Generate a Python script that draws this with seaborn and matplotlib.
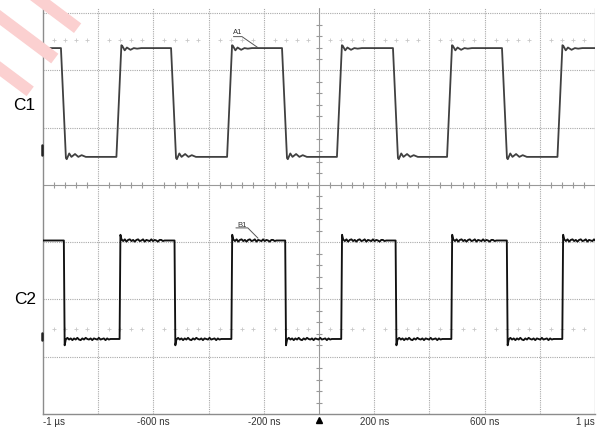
import numpy as np
import pandas as pd
import matplotlib
matplotlib.use("Agg")
import matplotlib.pyplot as plt
from matplotlib.patches import Polygon
import seaborn as sns

# ---------------- data ----------------
time_ticks_ns = [-1000, -600, -200, 200, 600, 1000]
time_tick_labels = ["-1 µs", "-600 ns", "-200 ns", "200 ns", "600 ns", "1 µs"]

# channel 1 (divisions)
c1_levels = [0.49, 2.39]          # low, high
c1_falls_ns = [-926, -527, -125, 277, 672]
c1_rises_ns = [-725, -324, 74, 473, 873]
c1_edge_ns = 18
c1_ring_t_ns = [0, 3, 12, 20, 33, 45, 57, 72]
c1_ring_rise = [0.05, 0.04, -0.04, 0.01, -0.03, 0.0, -0.01, 0.0]
c1_ring_fall = [0.02, 0.04, -0.06, 0.0, -0.05, 0.0, -0.03, 0.0]

# channel 2 (divisions)
c2_levels = [-2.69, -0.97]
c2_falls_ns = [-923, -522, -121, 279, 682]
c2_rises_ns = [-721, -316, 82, 481, 883]
c2_edge_ns = 3
c2_ring_t_ns = [0, 4, 10, 16, 22, 28, 34, 40, 46, 52, 58, 64, 70, 76, 82,
                88, 94, 100, 106, 112, 118, 124, 130, 136, 142, 148, 154, 160, 166]
c2_ring_rise = [0.10, 0.02, -0.01, 0.02, -0.02, 0.01, 0.02, -0.01, 0.01, -0.02,
                0.01, 0.02, -0.01, 0.0, 0.02, -0.02, 0.01, 0.0, -0.01, 0.02,
                -0.01, 0.01, 0.0, -0.02, 0.01, 0.01, -0.01, 0.0, 0.0]
c2_ring_fall = [0.11, 0.01, -0.02, 0.01, -0.01, 0.02, -0.01, 0.01, -0.02, 0.01,
                0.02, -0.01, 0.01, -0.02, 0.0, 0.01, -0.01, 0.02, -0.01, 0.0,
                0.01, -0.02, 0.01, 0.0, -0.01, 0.02, -0.01, 0.01, 0.0]

c1_ref_div = 2.53
c2_ref_div = -2.51


def build_trace(levels, falls, rises, edge, ring_t, ring_rise, ring_fall,
                t0=-1000.0, t1=1000.0):
    low, high = levels
    edges = sorted([(t, "fall") for t in falls] + [(t, "rise") for t in rises])
    ts, vs = [t0], [high]
    lvl = high
    for t, kind in edges:
        ts.append(t - edge / 2); vs.append(lvl)
        new = low if kind == "fall" else high
        sign = -1 if kind == "fall" else 1
        tmpl = ring_fall if kind == "fall" else ring_rise
        for dt, dv in zip(ring_t, tmpl):
            tt = t + edge / 2 + dt
            if tt < t1:
                ts.append(tt); vs.append(new + sign * dv)
        lvl = new
    ts.append(t1); vs.append(lvl)
    return ts, vs


t1s, v1s = build_trace(c1_levels, c1_falls_ns, c1_rises_ns, c1_edge_ns,
                       c1_ring_t_ns, c1_ring_rise, c1_ring_fall)
t2s, v2s = build_trace(c2_levels, c2_falls_ns, c2_rises_ns, c2_edge_ns,
                       c2_ring_t_ns, c2_ring_rise, c2_ring_fall)
df1 = pd.DataFrame({"t": t1s, "v": v1s})
df2 = pd.DataFrame({"t": t2s, "v": v2s})

# ---------------- figure ----------------
sns.set_theme(style="white")
plt.rcParams["font.family"] = ["Liberation Sans", "DejaVu Sans"]

W, H = 603, 429
fig = plt.figure(figsize=(W / 100, H / 100), dpi=100)
fig.patch.set_facecolor("white")

# watermark stripes (pixel coordinates, origin top-left)
d = np.array([0.8, 0.6]); n = np.array([-0.6, 0.8])
for c in [-24.0, 14.0, 55.0]:
    w = 12.0
    pts = [(-150) * d + (c - w / 2) * n, 79 * d + (c - w / 2) * n,
           79 * d + (c + w / 2) * n, (-150) * d + (c + w / 2) * n]
    pts = [(p[0] / W, 1 - p[1] / H) for p in pts]
    fig.patches.append(Polygon(pts, closed=True, transform=fig.transFigure,
                               facecolor="#fbd0d0", edgecolor="none", zorder=0))

ax = fig.add_axes([43 / W, 15 / H, 552 / W, 406 / H])
ax.patch.set_alpha(0)
ax.set_xlim(-1000, 1000)
ax.set_ylim(-4, 3.09)

# grid
for x in range(-800, 1000, 200):
    if x != 0:
        ax.axvline(x, color="#a9a9a9", lw=0.8, ls=(0, (1, 1)), zorder=1)
for y in range(-3, 4):
    if y != 0:
        ax.axhline(y, color="#a9a9a9", lw=0.8, ls=(0, (1, 1)), zorder=1)
ax.axvline(1000, color="#aaaaaa", lw=0.9, zorder=1)

# centre axes with minor ticks
ax.axhline(0, color="#999999", lw=0.8, zorder=1)
ax.axvline(0, color="#999999", lw=0.8, zorder=1)
xt = [x for x in range(-960, 1000, 40) if x % 200 != 0]
ax.plot(xt, [0] * len(xt), ls="none", marker="|", ms=4, mew=0.8, color="#999999", zorder=1)
yt = [y / 5 for y in range(-20, 16) if y % 5 != 0]
ax.plot([0] * len(yt), yt, ls="none", marker="_", ms=4, mew=0.8, color="#999999", zorder=1)

# reference level dotted '+' rows
for ref in [c1_ref_div, c2_ref_div]:
    ax.plot(xt, [ref] * len(xt), ls="none", marker="+", ms=3, mew=0.6,
            color="#c8c8c8", zorder=1)

# traces
sns.lineplot(data=df1, x="t", y="v", estimator=None, sort=False,
             color="#404040", linewidth=1.3, ax=ax, zorder=3)
sns.lineplot(data=df2, x="t", y="v", estimator=None, sort=False,
             color="#111111", linewidth=1.35, ax=ax, zorder=3)
ax.set_xlabel(""); ax.set_ylabel("")

# spines
for s in ["top", "right"]:
    ax.spines[s].set_visible(False)
for s in ["left", "bottom"]:
    ax.spines[s].set_color("#8c8c8c")
    ax.spines[s].set_linewidth(1.0)

ax.set_yticks([])
ax.set_xticks(time_ticks_ns)
ax.set_xticklabels(time_tick_labels)
ax.tick_params(axis="x", length=0, pad=2.5, labelsize=7, labelcolor="#333333")
lbls = ax.get_xticklabels()
lbls[0].set_ha("left"); lbls[-1].set_ha("right")

# cursors A1 / B1
ax.text(-293, 2.66, "A1", fontsize=5.5, color="#333333", ha="center", va="center")
ax.plot([-310, -279, -222], [2.59, 2.59, 2.40], color="#555555", lw=0.7, zorder=4)
ax.text(-279, -0.70, "B1", fontsize=5.5, color="#333333", ha="center", va="center")
ax.plot([-301, -258, -221], [-0.75, -0.75, -0.93], color="#555555", lw=0.7, zorder=4)

# ground markers and trigger marker
ax.plot([-1002, -1002], [0.52, 0.70], color="#222222", lw=1.8, clip_on=False, zorder=5)
ax.plot([-1002, -1002], [-2.59, -2.71], color="#222222", lw=1.8, clip_on=False, zorder=5)
ax.plot([0], [-4.11], marker="^", ms=5, color="black", clip_on=False, zorder=5)

# channel labels
fig.text(24.5 / W, 1 - 106 / H, "C1", fontsize=12.4, color="black", ha="center", va="center")
fig.text(25.5 / W, 1 - 300 / H, "C2", fontsize=12.4, color="black", ha="center", va="center")

fig.savefig("out.png", dpi=100)
